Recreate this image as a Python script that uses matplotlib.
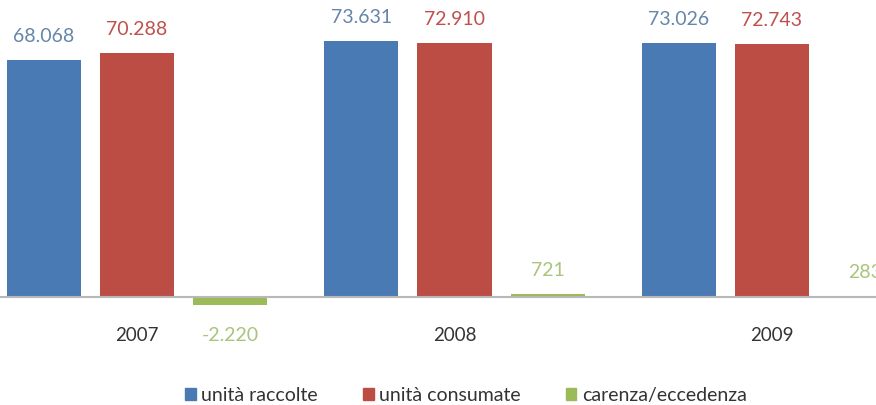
import matplotlib
matplotlib.use("Agg")
import matplotlib.pyplot as plt
import numpy as np
from matplotlib.patches import Patch

# ── Data ─────────────────────────────────────────────────────────────────────
years = ["2007", "2008", "2009"]
raccolte = [68.068, 73.631, 73.026]
consumate = [70.288, 72.910, 72.743]
carenza = [-2.220, 0.721, 0.283]
labels_raccolte = ["68.068", "73.631", "73.026"]
labels_consumate = ["70.288", "72.910", "72.743"]
labels_carenza = ["-2.220", "721", "283"]
series_names = ["unità raccolte", "unità consumate", "carenza/eccedenza"]

BLUE, RED, GREEN = "#4a7ab4", "#bc4d45", "#9bbb59"
TXT_BLUE, TXT_RED, TXT_GREEN = "#6585ab", "#c0504d", "#a9c47c"

plt.rcParams["font.family"] = ["Lato", "DejaVu Sans"]

fig = plt.figure(figsize=(8.76, 4.05), dpi=100)
ax = fig.add_axes([0, 0, 1, 1])

x = np.arange(len(years))
step, width = 0.294, 0.234

series = [
    (raccolte, labels_raccolte, BLUE, TXT_BLUE, -step),
    (consumate, labels_consumate, RED, TXT_RED, 0.0),
    (carenza, labels_carenza, GREEN, TXT_GREEN, step),
]
for vals, labs, col, tcol, off in series:
    bars = ax.bar(x + off, vals, width, color=col, edgecolor="none", zorder=2)
    for b, v, lab in zip(bars, vals, labs):
        cx = b.get_x() + b.get_width() / 2
        dy = 17 if v >= 0 else -22
        ax.annotate(lab, (cx, v), xytext=(0, dy), textcoords="offset points",
                    ha="center", va="center", fontsize=14, color=tcol)

ax.axhline(0, color="#b8b8b8", lw=1.5, zorder=3)

for xi, yr in zip(x, years):
    ax.text(xi, -11.2, yr, ha="center", va="center", fontsize=13.5, color="#333333")

# pixel layout of the reference: group spacing ~317.5 px, first group centre at 137 px
ax.set_xlim(-137 / 317.5, (876 - 137) / 317.5)
ax.set_ylim(-31.06, 85.42)
ax.axis("off")

handles = [Patch(color=c) for c in (BLUE, RED, GREEN)]
fig.legend(handles, series_names, loc="center", bbox_to_anchor=(0.532, 0.024),
           ncol=3, frameon=False, fontsize=14, handlelength=0.55, handleheight=0.55,
           handletextpad=0.3, columnspacing=2.3, labelcolor="#333333")

fig.savefig("out.png", dpi=100)
